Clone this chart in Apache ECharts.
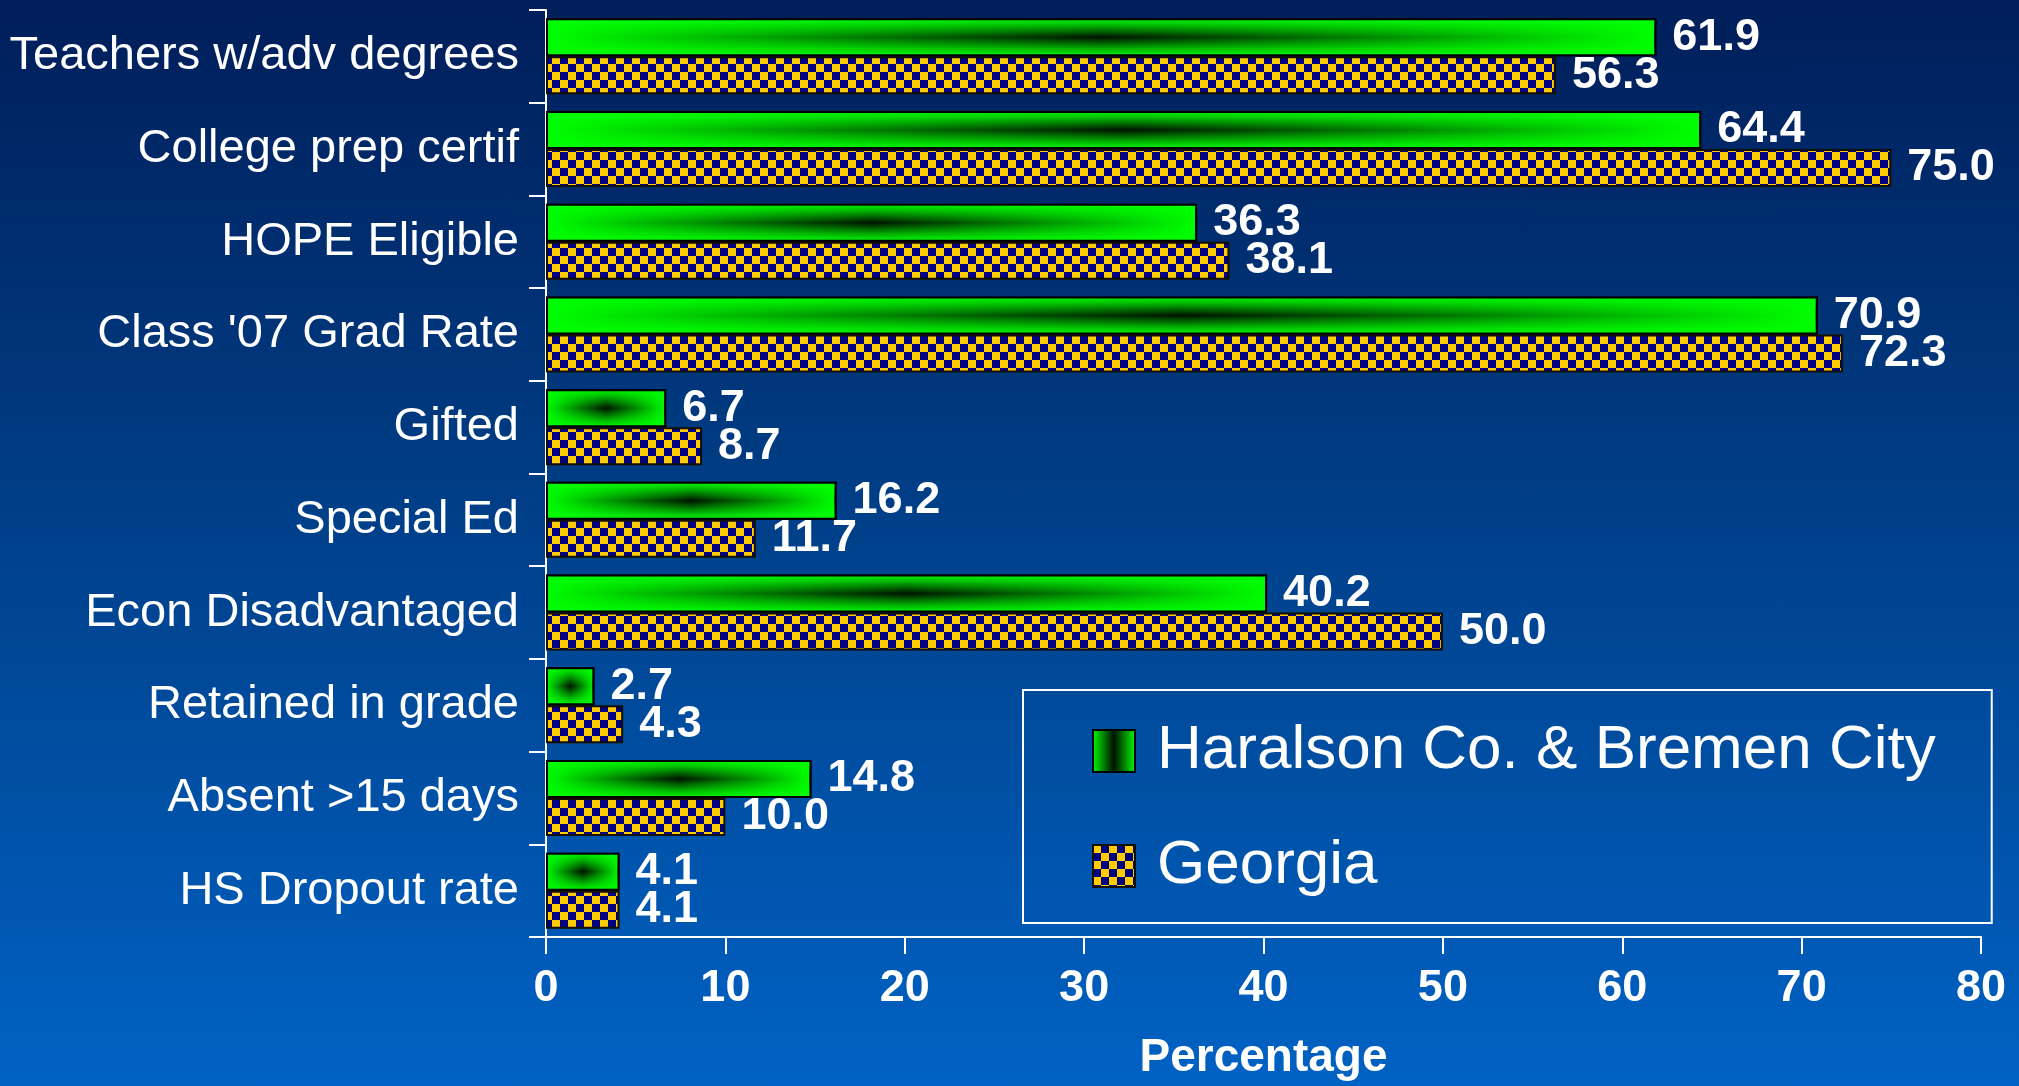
<!DOCTYPE html>
<html><head><meta charset="utf-8">
<script src="https://cdn.jsdelivr.net/npm/echarts@6/dist/echarts.min.js"></script>
<style>
html,body{margin:0;padding:0;width:100%;height:100%;overflow:hidden;background:#003a80}
#c{width:2019px;height:1086px;background:linear-gradient(to bottom,#001e5a 0%,#003a80 40%,#0062c4 100%);}
</style></head><body><div id="c"></div>
<script>
const categories = ['Teachers w/adv degrees','College prep certif','HOPE Eligible',"Class '07 Grad Rate",'Gifted','Special Ed','Econ Disadvantaged','Retained in grade','Absent >15 days','HS Dropout rate'];
const haralson = [61.9, 64.4, 36.3, 70.9, 6.7, 16.2, 40.2, 2.7, 14.8, 4.1];
const georgia  = [56.3, 75.0, 38.1, 72.3, 8.7, 11.7, 50.0, 4.3, 10.0, 4.1];
const seriesNames = ['Haralson Co. & Bremen City', 'Georgia'];
const axisName = 'Percentage';
const xMin = 0, xMax = 80, xStep = 10;

const FONT = "'Liberation Sans', Arial, sans-serif";

// checker pattern
const pc = document.createElement('canvas');
pc.width = 16; pc.height = 16;
const g = pc.getContext('2d');
g.fillStyle = '#000080'; g.fillRect(0, 0, 16, 16);
g.fillStyle = '#ffcc00'; g.fillRect(0, 0, 8, 8); g.fillRect(8, 8, 8, 8);

const greenH = {type:'linear', x:0, y:0, x2:1, y2:0, colorStops:[
  {offset:0, color:'#00ff00'}, {offset:0.5, color:'#001200'}, {offset:1, color:'#00ff00'}]};
const greenV = {type:'linear', x:0, y:0, x2:0, y2:1, colorStops:[
  {offset:0, color:'rgba(0,255,0,1)'}, {offset:0.2, color:'rgba(0,255,0,0.65)'},
  {offset:0.5, color:'rgba(0,255,0,0)'}, {offset:0.8, color:'rgba(0,255,0,0.65)'},
  {offset:1, color:'rgba(0,255,0,1)'}]};

const valueLabel = {show:true, position:'right', distance:16, color:'#ffffff', fontSize:45,
  fontWeight:'bold', fontFamily:FONT, formatter: p => Number(p.value).toFixed(1)};

const chart = echarts.init(document.getElementById('c'), null, {renderer:'canvas'});
chart.setOption({
  backgroundColor: 'transparent',
  animation: false,
  grid: {left:546, right:38, top:10, bottom:145, containLabel:false},
  legend: {
    data: seriesNames, orient:'vertical', left:1023, top:690, icon:'rect',
    padding:[30, 56, 26, 69], itemWidth:42, itemHeight:42, itemGap:53,
    borderColor:'#ffffff', borderWidth:2, selectedMode:false,
    textStyle:{color:'#ffffff', fontSize:62, fontFamily:FONT, padding:[0,0,0,17]}
  },
  xAxis: {
    type:'value', min:xMin, max:xMax, interval:xStep,
    name: axisName, nameLocation:'middle', nameGap:98,
    nameTextStyle:{color:'#ffffff', fontSize:46, fontWeight:'bold', fontFamily:FONT},
    axisLine:{show:true, lineStyle:{color:'#ffffff', width:2}},
    axisTick:{show:true, length:17, lineStyle:{color:'#ffffff', width:2}},
    axisLabel:{color:'#ffffff', fontSize:45, fontWeight:'bold', fontFamily:FONT, margin:29},
    splitLine:{show:false}
  },
  yAxis: [{
    type:'category', data:categories, inverse:true,
    axisLine:{show:true, lineStyle:{color:'#ffffff', width:2}},
    axisTick:{show:true, length:17, lineStyle:{color:'#ffffff', width:2}},
    axisLabel:{color:'#ffffff', fontSize:47, fontFamily:FONT, margin:27}
  }, {
    type:'category', data:categories, inverse:true, show:false
  }],
  series: [
    {name:seriesNames[0], type:'bar', yAxisIndex:0, data:haralson, barGap:'0%', barCategoryGap:'18%',
     itemStyle:{color:greenH, borderColor:'#000000', borderWidth:2}, label:valueLabel, z:2},
    {name:seriesNames[1], type:'bar', yAxisIndex:0, data:georgia, barGap:'0%', barCategoryGap:'18%',
     itemStyle:{color:{image:pc, repeat:'repeat'}, borderColor:'#140f00', borderWidth:2}, label:valueLabel, z:2},
    {name:'glow', type:'bar', yAxisIndex:1, data:haralson, barGap:'0%', barCategoryGap:'18%', silent:true,
     itemStyle:{color:greenV, borderColor:'#000000', borderWidth:2}, label:{show:false}, z:3},
    {name:'slot', type:'bar', yAxisIndex:1, data:georgia, barGap:'0%', barCategoryGap:'18%', silent:true,
     itemStyle:{color:'rgba(0,0,0,0)'}, label:{show:false}, z:1}
  ]
});
</script></body></html>
